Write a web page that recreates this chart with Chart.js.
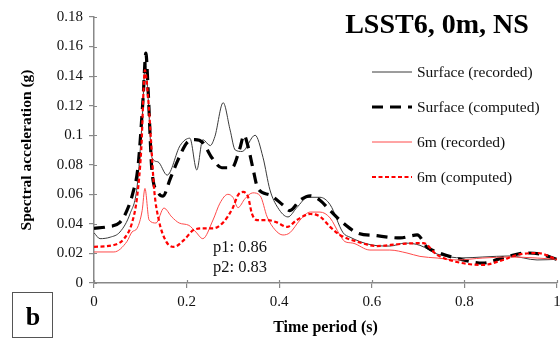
<!DOCTYPE html>
<html>
<head>
<meta charset="utf-8">
<script src="https://cdn.jsdelivr.net/npm/chart.js@4"></script>
<style>
  html, body { margin: 0; padding: 0; background: #fff; }
  #wrap { width: 560px; height: 341px; }
</style>
</head>
<body>
<div id="wrap"><canvas id="c" width="560" height="341"></canvas></div>
<script>
// Response spectra: period (s) and spectral acceleration (g) for each record
const periodSurfRec = [0, 0.013, 0.035, 0.056, 0.078, 0.093, 0.104, 0.111, 0.117, 0.125, 0.138, 0.158, 0.186, 0.207, 0.222, 0.235, 0.251, 0.261, 0.279, 0.294, 0.305, 0.320, 0.348, 0.365, 0.380, 0.397, 0.419, 0.438, 0.462, 0.488, 0.510, 0.538, 0.553, 0.596, 0.639, 0.672, 0.704, 0.741, 0.797, 0.840, 0.898, 0.957, 1.0];
const saSurfRec     = [0.034, 0.030, 0.031, 0.0345, 0.047, 0.065, 0.110, 0.150, 0.125, 0.085, 0.082, 0.073, 0.093, 0.098, 0.0765, 0.097, 0.093, 0.099, 0.122, 0.1035, 0.090, 0.089, 0.100, 0.085, 0.063, 0.051, 0.0447, 0.051, 0.058, 0.058, 0.053, 0.034, 0.031, 0.026, 0.025, 0.027, 0.0255, 0.0196, 0.017, 0.0176, 0.0183, 0.0156, 0.016];

const periodSurfCmp = [0, 0.028, 0.056, 0.071, 0.084, 0.095, 0.106, 0.112, 0.117, 0.125, 0.138, 0.149, 0.164, 0.181, 0.201, 0.218, 0.235, 0.255, 0.276, 0.298, 0.315, 0.324, 0.333, 0.343, 0.354, 0.380, 0.408, 0.423, 0.445, 0.467, 0.488, 0.510, 0.538, 0.568, 0.611, 0.661, 0.698, 0.719, 0.741, 0.797, 0.840, 0.883, 0.935, 0.963, 1.0];
const saSurfCmp     = [0.037, 0.038, 0.041, 0.049, 0.061, 0.0785, 0.125, 0.1555, 0.130, 0.0765, 0.0615, 0.0588, 0.070, 0.083, 0.095, 0.097, 0.095, 0.0846, 0.078, 0.078, 0.091, 0.100, 0.092, 0.078, 0.064, 0.0595, 0.0528, 0.049, 0.056, 0.059, 0.056, 0.049, 0.0406, 0.034, 0.032, 0.0305, 0.0325, 0.0244, 0.021, 0.0156, 0.0135, 0.017, 0.0203, 0.0196, 0.016];

const period6mRec = [0, 0.043, 0.071, 0.082, 0.093, 0.104, 0.110, 0.119, 0.134, 0.151, 0.168, 0.184, 0.205, 0.220, 0.235, 0.257, 0.272, 0.289, 0.300, 0.311, 0.326, 0.343, 0.359, 0.374, 0.391, 0.408, 0.423, 0.445, 0.467, 0.488, 0.510, 0.531, 0.542, 0.559, 0.596, 0.639, 0.676, 0.704, 0.741, 0.784, 0.840, 0.898, 0.957, 1.0];
const sa6mRec     = [0.021, 0.021, 0.028, 0.0345, 0.037, 0.049, 0.064, 0.0426, 0.0406, 0.0507, 0.0447, 0.0406, 0.039, 0.0345, 0.030, 0.0426, 0.054, 0.060, 0.058, 0.051, 0.057, 0.061, 0.059, 0.0447, 0.036, 0.0325, 0.034, 0.0426, 0.048, 0.048, 0.044, 0.0325, 0.028, 0.027, 0.0223, 0.0223, 0.0203, 0.018, 0.0169, 0.0156, 0.0169, 0.0176, 0.0169, 0.016];

const period6mCmp = [0, 0.043, 0.065, 0.082, 0.093, 0.102, 0.110, 0.117, 0.123, 0.130, 0.140, 0.156, 0.173, 0.194, 0.216, 0.238, 0.257, 0.279, 0.300, 0.311, 0.322, 0.333, 0.341, 0.352, 0.374, 0.395, 0.417, 0.438, 0.467, 0.488, 0.510, 0.531, 0.568, 0.611, 0.661, 0.711, 0.741, 0.784, 0.840, 0.883, 0.914, 0.957, 1.0];
const sa6mCmp     = [0.0245, 0.0257, 0.030, 0.0406, 0.058, 0.090, 0.144, 0.125, 0.097, 0.063, 0.0426, 0.028, 0.0245, 0.029, 0.036, 0.037, 0.037, 0.041, 0.051, 0.0595, 0.0616, 0.058, 0.047, 0.0426, 0.0426, 0.041, 0.038, 0.0426, 0.0467, 0.045, 0.038, 0.0325, 0.028, 0.025, 0.0264, 0.027, 0.019, 0.0142, 0.0122, 0.0156, 0.019, 0.0203, 0.016];

const seriesNames = ['Surface (recorded)', 'Surface (computed)', '6m (recorded)', '6m (computed)'];
const xTickValues = [0, 0.2, 0.4, 0.6, 0.8, 1];
const xTickLabels = ['0', '0.2', '0.4', '0.6', '0.8', '1'];
const yTickValues = [0, 0.02, 0.04, 0.06, 0.08, 0.1, 0.12, 0.14, 0.16, 0.18];
const yTickLabels = ['0', '0.02', '0.04', '0.06', '0.08', '0.1', '0.12', '0.14', '0.16', '0.18'];
const chartTitle = 'LSST6, 0m, NS';
const fitNotes = ['p1: 0.86', 'p2: 0.83'];
const panelLabel = 'b';
const xTitle = 'Time period (s)';
const yTitle = 'Spectral acceleration (g)';

const SERIF = "'Liberation Serif', 'DejaVu Serif', serif";

function toXY(ts, vs) { return ts.map((t, i) => ({ x: t, y: vs[i] })); }

const styles = [
  { color: '#3a3a3a', width: 1, dash: [] },
  { color: '#000000', width: 3.2, dash: [11, 7] },
  { color: '#ff4a4a', width: 1, dash: [] },
  { color: '#ff0000', width: 2.2, dash: [4, 2.5] }
];

const datasets = [
  toXY(periodSurfRec, saSurfRec),
  toXY(periodSurfCmp, saSurfCmp),
  toXY(period6mRec, sa6mRec),
  toXY(period6mCmp, sa6mCmp)
].map((data, i) => ({
  label: seriesNames[i],
  data,
  borderColor: styles[i].color,
  borderWidth: styles[i].width,
  borderDash: styles[i].dash,
  pointRadius: 0,
  fill: false,
  cubicInterpolationMode: 'monotone',
  order: 3 - i
}));

// Short tick stubs on the inner side of both axes
const innerTicks = {
  id: 'innerTicks',
  afterDraw(chart) {
    const { ctx, chartArea, scales } = chart;
    ctx.save();
    ctx.strokeStyle = '#888';
    ctx.lineWidth = 1.2;
    ctx.beginPath();
    yTickValues.forEach(v => {
      const py = Math.round(scales.y.getPixelForValue(v)) + 0.5;
      ctx.moveTo(chartArea.left, py);
      ctx.lineTo(chartArea.left + 3, py);
    });
    xTickValues.forEach(v => {
      const px = Math.round(scales.x.getPixelForValue(v)) + 0.5;
      ctx.moveTo(px, chartArea.bottom);
      ctx.lineTo(px, chartArea.bottom - 3);
    });
    ctx.stroke();
    ctx.restore();
  }
};

// Legend, title, fit notes and panel tag drawn inside the plot
const annotations = {
  id: 'annotations',
  afterDraw(chart) {
    const ctx = chart.ctx;
    ctx.save();
    // title
    ctx.fillStyle = '#000';
    ctx.font = 'bold 28px ' + SERIF;
    ctx.textAlign = 'center';
    ctx.textBaseline = 'alphabetic';
    ctx.fillText(chartTitle, 437, 33);

    // legend
    const rows = [72, 107, 142, 177];
    ctx.font = '15.5px ' + SERIF;
    ctx.textAlign = 'left';
    ctx.textBaseline = 'middle';
    seriesNames.forEach((name, i) => {
      const s = styles[i];
      ctx.beginPath();
      ctx.strokeStyle = s.color;
      ctx.lineWidth = s.width;
      ctx.setLineDash(s.dash);
      ctx.moveTo(372, rows[i]);
      ctx.lineTo(412, rows[i]);
      ctx.stroke();
      ctx.setLineDash([]);
      ctx.fillStyle = '#111';
      ctx.fillText(name, 417, rows[i] + 1);
    });

    // fit notes
    ctx.font = '16.5px ' + SERIF;
    ctx.textBaseline = 'alphabetic';
    ctx.fillStyle = '#111';
    ctx.fillText(fitNotes[0], 213, 252);
    ctx.fillText(fitNotes[1], 213, 272);

    // panel tag
    ctx.strokeStyle = '#555';
    ctx.lineWidth = 1;
    ctx.strokeRect(12.5, 292.5, 40, 45);
    ctx.font = 'bold 26px ' + SERIF;
    ctx.textAlign = 'center';
    ctx.fillStyle = '#000';
    ctx.fillText(panelLabel, 33, 325);
    ctx.restore();
  }
};

new Chart(document.getElementById('c'), {
  type: 'line',
  data: { datasets },
  options: {
    responsive: false,
    devicePixelRatio: 1,
    animation: false,
    layout: { padding: { top: 17, right: 3, left: 0, bottom: 0 } },
    plugins: { legend: { display: false }, tooltip: { enabled: false } },
    scales: {
      x: {
        type: 'linear',
        min: 0, max: 1,
        afterBuildTicks: s => { s.ticks = xTickValues.map(v => ({ value: v })); },
        afterFit: s => { s.height = 58; s.paddingLeft = 0; s.paddingRight = 0; },
        ticks: {
          callback: (v) => xTickLabels[xTickValues.indexOf(v)] ?? '',
          font: { family: SERIF, size: 15 },
          color: '#111',
          padding: 5,
          maxRotation: 0
        },
        grid: { drawOnChartArea: false, drawTicks: true, tickLength: 5, color: '#888', lineWidth: 1.2 },
        border: { display: true, color: '#888', width: 1.5 },
        title: { display: true, text: xTitle, font: { family: SERIF, size: 16, weight: 'bold' }, color: '#000', padding: { top: 0, bottom: 4 } }
      },
      y: {
        type: 'linear',
        min: 0, max: 0.18,
        afterBuildTicks: s => { s.ticks = yTickValues.map(v => ({ value: v })); },
        afterFit: s => { s.width = 94; s.paddingTop = 0; s.paddingBottom = 0; },
        ticks: {
          callback: (v) => { const k = yTickValues.findIndex(t => Math.abs(t - v) < 1e-9); return k >= 0 ? yTickLabels[k] : ''; },
          font: { family: SERIF, size: 15 },
          color: '#111',
          padding: 6
        },
        grid: { drawOnChartArea: false, drawTicks: true, tickLength: 5, color: '#888', lineWidth: 1.2 },
        border: { display: true, color: '#888', width: 1.5 },
        title: { display: true, text: yTitle, font: { family: SERIF, size: 15.5, weight: 'bold' }, color: '#000', padding: { top: 18, bottom: 0 } }
      }
    }
  },
  plugins: [innerTicks, annotations]
});
</script>
</body>
</html>
